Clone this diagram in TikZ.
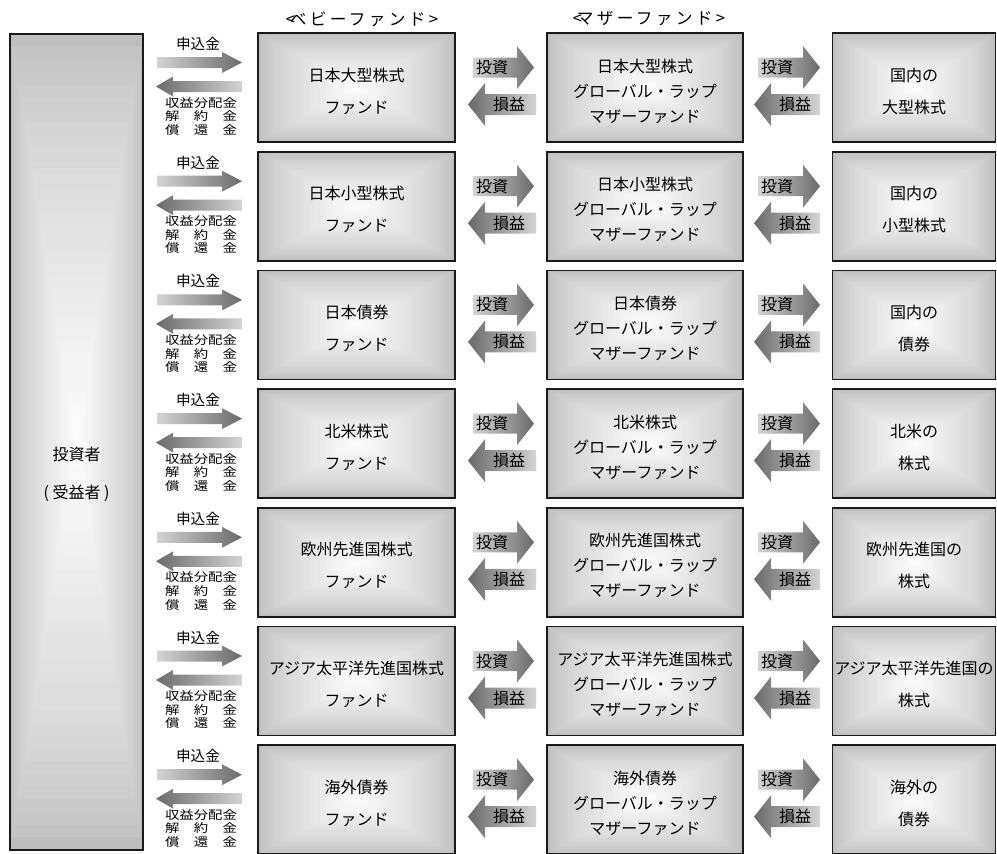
\documentclass[tikz,border=0pt]{standalone}
\usepackage{fontspec}
\setmainfont{Noto Sans CJK JP}
\usepackage{graphicx}
\definecolor{boxedge}{HTML}{BEBEBE}
\definecolor{boxmid}{HTML}{FBFBFB}
\definecolor{arrlight}{HTML}{D4D4D4}
\definecolor{arrdark}{HTML}{6A6A6A}
\definecolor{edgeline}{HTML}{1A1A1A}
% rectangular "from centre" gradient: centre x, centre y, half width, half height (px units)
\newcommand{\gradrect}[4]{%
  \foreach \k in {0,...,31}{%
    \pgfmathsetmacro\fr{1-\k/32}%
    \pgfmathsetmacro\pc{100*(\k/31)^0.7}%
    \pgfmathsetmacro\gxa{#1-#3*\fr}%
    \pgfmathsetmacro\gxb{#1+#3*\fr}%
    \pgfmathsetmacro\gya{#2-#4*\fr}%
    \pgfmathsetmacro\gyb{#2+#4*\fr}%
    \fill[boxmid!\pc!boxedge] (\gxa,\gya) rectangle (\gxb,\gyb);
  }}
\tikzset{
  fundbox/.style={draw=edgeline, line width=1.2pt, inner sep=0pt},
  babybox/.style={fundbox, minimum width=147.75pt, minimum height=81.75pt},
  motherbox/.style={fundbox, minimum width=147pt, minimum height=81.75pt},
  assetbox/.style={fundbox, minimum width=122.25pt, minimum height=81.75pt},
  twoline/.style={align=center, inner sep=0pt, font=\fontsize{12}{24}\selectfont},
  threeline/.style={align=center, inner sep=0pt, font=\fontsize{12}{18.75}\selectfont},
  fwdarrow/.style={left color=arrlight, right color=arrdark},
  bwdarrow/.style={left color=arrdark, right color=arrlight},
  arrlabel/.style={inner sep=0pt, font=\fontsize{12}{14}\selectfont},
  smalllabel/.style={inner sep=0pt, font=\fontsize{11}{13}\selectfont},
  headlabel/.style={inner sep=0pt, font=\fontsize{12.5}{15}\selectfont\addfontfeature{LetterSpace=20}},
}
\begin{document}
\begin{tikzpicture}[x=0.75pt, y=-0.75pt]
\useasboundingbox (0,0) rectangle (997,854);

% headers
\node[headlabel] (hbaby) at (362,19) {<\kern-4pt ベビーファンド>};
\node[headlabel] (hmother) at (649,19) {<\kern-4pt マザーファンド>};

% investor
\gradrect{76.5}{442}{66.5}{408}
\node[fundbox, minimum width=99.75pt, minimum height=612pt] (inv) at (76.5,442) {};
\node[align=center, inner sep=0pt, font=\fontsize{12}{28.5}\selectfont] (invtext) at (76.5,474) {投資者\\( 受益者 )};

\foreach \i/\a/\r/\s in {0/日本大型株式/国内の/大型株式,
                         1/日本小型株式/国内の/小型株式,
                         2/日本債券/国内の/債券,
                         3/北米株式/北米の/株式,
                         4/欧州先進国株式/欧州先進国の/株式,
                         5/アジア太平洋先進国株式/アジア太平洋先進国の/株式,
                         6/海外債券/海外の/債券}{
  \pgfmathsetmacro\t{33+\i*118.7}
  \pgfmathsetmacro\c{\t+54.5}
  % boxes
  \gradrect{356.5}{\c}{98.5}{54.5}
  \gradrect{645}{\c}{98}{54.5}
  \gradrect{914}{\c}{81.5}{54.5}
  \node[babybox] (b\i) at (356.5,\c) {};
  \node[motherbox] (m\i) at (645,\c) {};
  \node[assetbox] (r\i) at (914,\c) {};
  \node[twoline] (bt\i) at ([yshift=-2.6pt]b\i.center) {\a\\ファンド};
  \node[threeline] (mt\i) at ([yshift=-2.6pt]m\i.center) {\a\\グローバル・ラップ\\マザーファンド};
  \node[twoline] (rt\i) at ([yshift=-2.6pt]r\i.center) {\r\\\s};
  % investor <-> baby arrows
  \shade[fwdarrow] (157,\t+24) -- (222,\t+24) -- (222,\t+19) -- (242,\t+29.5) -- (222,\t+40) -- (222,\t+35) -- (157,\t+35) -- cycle;
  \shade[bwdarrow] (156,\t+53.5) -- (173,\t+43.5) -- (173,\t+48) -- (242,\t+48) -- (242,\t+59) -- (173,\t+59) -- (173,\t+63.5) -- cycle;
  \node[smalllabel] (sub\i) at (198,\t+11) {申込金};
  \node[inner sep=0pt] (ret\i) at (201,\t+84.5) {\scalebox{1}[0.82]{\fontsize{10.8}{11}\selectfont\begin{tabular}{@{}c@{}}収益分配金\\解　約　金\\償　還　金\end{tabular}}};
  % baby <-> mother arrows
  \shade[fwdarrow] (473,\t+24.5) -- (517,\t+24.5) -- (517,\t+13) -- (534,\t+34.5) -- (517,\t+56) -- (517,\t+44.5) -- (473,\t+44.5) -- cycle;
  \shade[bwdarrow] (468,\t+71.5) -- (485,\t+50) -- (485,\t+61) -- (536,\t+61) -- (536,\t+82) -- (485,\t+82) -- (485,\t+93) -- cycle;
  \node[arrlabel] (inva\i) at (492,\t+34.5) {投資};
  \node[arrlabel] (pla\i) at (509,\t+71.5) {損益};
  % mother <-> asset arrows
  \shade[fwdarrow] (758,\t+24.5) -- (803,\t+24.5) -- (803,\t+13) -- (820,\t+34.5) -- (803,\t+56) -- (803,\t+44.5) -- (758,\t+44.5) -- cycle;
  \shade[bwdarrow] (754,\t+71.5) -- (771,\t+50) -- (771,\t+61) -- (820,\t+61) -- (820,\t+82) -- (771,\t+82) -- (771,\t+93) -- cycle;
  \node[arrlabel] (invb\i) at (777,\t+34.5) {投資};
  \node[arrlabel] (plb\i) at (795,\t+71.5) {損益};
}
\end{tikzpicture}
\end{document}
